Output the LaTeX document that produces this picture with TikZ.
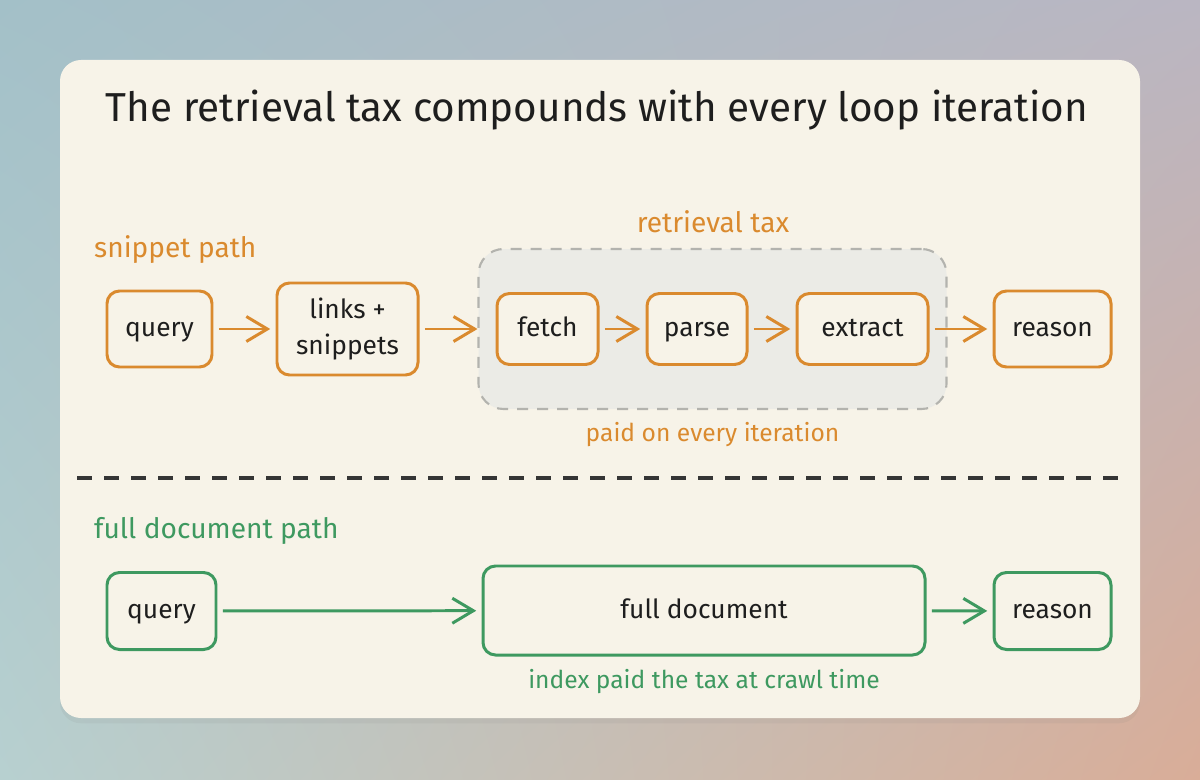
\documentclass[tikz,border=0pt]{standalone}
\usepackage{fontspec}
\setmainfont{Fira Sans}
\usetikzlibrary{positioning, arrows.meta, fit, backgrounds, shadows, shadings}
\definecolor{taxorange}{HTML}{DA8A2E}
\definecolor{docgreen}{HTML}{3E9960}
\definecolor{cardcream}{HTML}{F7F3E8}
\definecolor{taxgray}{HTML}{EBEBE6}
\definecolor{dashgray}{HTML}{B3B3AE}
\definecolor{inkblack}{HTML}{1E1E1E}
\definecolor{bgul}{HTML}{A3C0C8}
\definecolor{bgur}{HTML}{BAB6C2}
\definecolor{bgll}{HTML}{B7D0D0}
\definecolor{bglr}{HTML}{D9AD98}

\begin{document}
\begin{tikzpicture}[
      every node/.style={font=\fontsize{15}{20}\selectfont, text=inkblack},
      snip/.style={draw=taxorange, line width=1.7pt, rounded corners=0.25cm, fill=cardcream, align=center, minimum height=1.42cm},
      full/.style={draw=docgreen, line width=1.7pt, rounded corners=0.25cm, fill=cardcream, align=center, minimum height=1.54cm},
      oneline/.style={text height=2.0ex, text depth=0.3ex},
      pathlbl/.style={font=\fontsize{16}{19}\selectfont, anchor=west},
      note/.style={font=\fontsize{14}{17}\selectfont},
      flow/.style={-{Straight Barb[length=0.42cm, width=0.5cm]}, line width=1.7pt, shorten <=3pt, shorten >=3pt},
    ]
    % backdrop and card
    \useasboundingbox (0,0) rectangle (24,15.58);
    \begin{scope}[on background layer]
      \shade[upper left=bgul, upper right=bgur, lower left=bgll, lower right=bglr] (0,0) rectangle (24,15.58);
      \fill[cardcream, rounded corners=0.42cm, drop shadow={shadow xshift=0pt, shadow yshift=-3pt, opacity=0.1}]
        (1.2,1.22) rectangle (22.8,14.38);
    \end{scope}

    % title
    \node[font=\fontsize{23}{27}\selectfont] (title) at (11.94, 13.38) {The retrieval tax compounds with every loop iteration};

    % Snippet path
    \node[pathlbl, text=taxorange] (snipl) at (1.76, 10.58) {snippet path};
    \node[snip, oneline, minimum width=2.1cm, minimum height=1.52cm] (q1) at (3.19, 9.0) {query};
    \node[snip, minimum width=2.82cm, minimum height=1.84cm] (ls) at (6.95, 9.0) {links +\\snippets};
    \node[snip, oneline, minimum width=2.02cm] (fetch) at (10.95, 9.0) {fetch};
    \node[snip, oneline, minimum width=2.0cm] (parse) at (13.94, 9.0) {parse};
    \node[snip, oneline, minimum width=2.62cm] (extract) at (17.25, 9.0) {extract};
    \node[snip, oneline, minimum width=2.34cm, minimum height=1.52cm] (r1) at (21.05, 9.0) {reason};
    \begin{scope}[on background layer]
      \node[draw=dashgray, fill=taxgray, line width=1.2pt, dash pattern=on 0.22cm off 0.18cm, rounded corners=0.5cm,
        inner xsep=0.34cm, inner ysep=0.86cm, fit=(fetch) (extract)] (taxbox) {};
    \end{scope}
    \node[font=\fontsize{16}{19}\selectfont, text=taxorange] (taxl) at (14.26, 11.14) {retrieval tax};
    \node[note, text=taxorange, below=0.12cm of taxbox] (paidl) {paid on every iteration};

    \draw[flow, taxorange] (q1) -- (ls);
    \draw[flow, taxorange, shorten >=0pt] (ls) -- (taxbox);
    \draw[flow, taxorange] (fetch) -- (parse);
    \draw[flow, taxorange] (parse) -- (extract);
    \draw[flow, taxorange] (extract) -- (r1);

    % divider
    \draw[inkblack!90, line width=1.9pt, dash pattern=on 0.3cm off 0.24cm] (1.54, 6.02) -- (22.46, 6.02);

    % Full document path
    \node[pathlbl, text=docgreen] (fulll) at (1.76, 4.96) {full document path};
    \node[full, oneline, minimum width=2.18cm] (q2) at (3.23, 3.36) {query};
    \node[full, oneline, minimum width=8.84cm, minimum height=1.78cm] (doc) at (14.08, 3.37) {full document};
    \node[full, oneline, minimum width=2.34cm] (r2) at (21.05, 3.36) {reason};
    \node[note, text=docgreen, below=0.14cm of doc] (idxl) {index paid the tax at crawl time};

    \draw[flow, docgreen] (q2) -- (doc);
    \draw[flow, docgreen] (doc) -- (r2);
  \end{tikzpicture}
\end{document}
